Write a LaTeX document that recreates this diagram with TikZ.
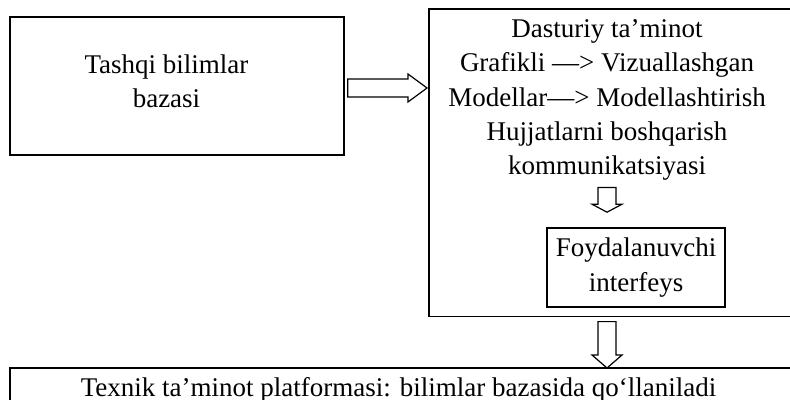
\documentclass[tikz,border=0pt]{standalone}
\usepackage{fontspec}
\setmainfont{Liberation Serif}
\usetikzlibrary{calc}

\tikzset{
  blockright/.style={to path={let \p1=(\tikztostart), \p2=(\tikztotarget) in
    (\x1,\y1+4.5pt) -- (\x2-9.5pt,\y1+4.5pt) -- (\x2-9.5pt,\y1+7pt) -- (\x2,\y1)
    -- (\x2-9.5pt,\y1-7pt) -- (\x2-9.5pt,\y1-4.5pt) -- (\x1,\y1-4.5pt) -- cycle}},
  blockdown/.style={to path={let \p1=(\tikztostart), \p2=(\tikztotarget) in
    (\x1-4.5pt,\y1) -- (\x1-4.5pt,\y2+#1) -- (\x1-7.5pt,\y2+#1) -- (\x1,\y2)
    -- (\x1+7.5pt,\y2+#1) -- (\x1+4.5pt,\y2+#1) -- (\x1+4.5pt,\y1) -- cycle}}
}

\begin{document}
\begin{tikzpicture}[every node/.style={font=\fontsize{13.5}{17.2}\selectfont, align=center}, line width=0.8pt]
  \useasboundingbox (0,0) rectangle (395pt,-200pt);

  % Outer boxes
  \node (ext) [draw, minimum width=167pt, minimum height=69pt] at (88.5pt,-43pt) {};
  \node (exttxt) [inner sep=0pt] at (83.25pt,-40.6pt) {Tashqi bilimlar\\bazasi};
  \node (soft) [minimum width=181pt, minimum height=153pt, anchor=north west] at (214.5pt,-4.5pt) {};
  \draw (soft.north east) -- (soft.north west) -- (soft.south west) -- (soft.south east);
  \node (softtxt) [inner sep=0pt, anchor=north] at (303.5pt,-9.3pt) {Dasturiy ta’minot\\Grafikli —> Vizuallashgan\\Modellar—> Modellashtirish\\Hujjatlarni boshqarish\\kommunikatsiyasi};
  \node (ui) [draw, minimum width=89pt, minimum height=39.5pt] at (318pt,-133.75pt) {Foydalanuvchi\\interfeys};
  \node (tech) [minimum width=390pt, minimum height=21.7pt, anchor=north west] at (5pt,-184pt) {};
  \draw (tech.north east) -- (tech.north west) -- (tech.south west);
  \node (techtxt) [inner sep=0pt] at (199.25pt,-194.9pt) {Texnik ta’minot platformasi: bilimlar bazasida qo‘llaniladi};

  % Hollow arrows
  \draw[line width=0.6pt, blockright] ([xshift=1.5pt,yshift=-1pt]ext.east) to ([xshift=-1pt]soft.west);
  \draw[line width=0.6pt, blockdown=4pt] ($(softtxt.south)+(0,-3pt)$) to ([yshift=7.5pt]ui.north);
  \draw[line width=0.6pt, blockdown=6.5pt] ($(softtxt.south |- soft.south)+(0,-2.5pt)$) to (tech.north);
\end{tikzpicture}
\end{document}
